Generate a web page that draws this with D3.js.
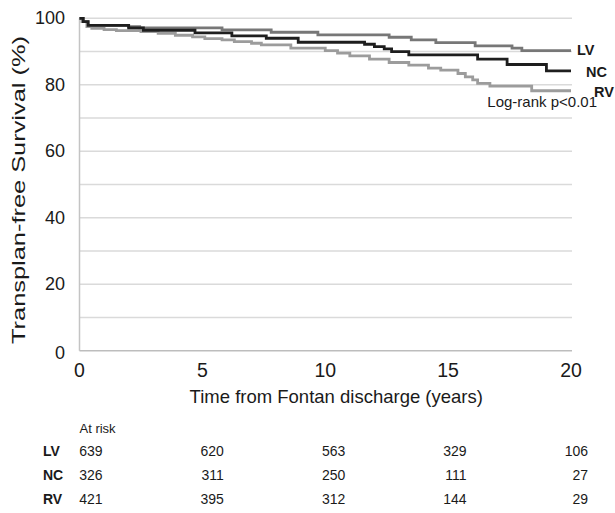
<!DOCTYPE html>
<html>
<head>
<meta charset="utf-8">
<script src="https://cdn.jsdelivr.net/npm/d3@7/dist/d3.min.js"></script>
<style>
  html, body { margin: 0; padding: 0; background: #fff; }
  svg { display: block; font-family: "Liberation Sans", Arial, sans-serif; }
</style>
</head>
<body>
<svg id="chart" width="615" height="513"></svg>
<script>
// Kaplan-Meier step data (years, % transplant-free survival)
const groups = ["LV", "NC", "RV"];
const lvTimes = [0, 0.15, 0.35, 2.0, 2.45, 5.8, 7.8, 9.7, 12.6, 13.5, 14.5, 16.1, 17.6, 18.0, 20];
const lvSurv  = [100, 99.0, 97.9, 97.5, 97.1, 96.5, 95.8, 95.0, 94.3, 93.5, 92.7, 91.7, 91.0, 90.3, 90.3];
const ncTimes = [0, 0.15, 0.35, 2.0, 2.6, 4.7, 6.2, 7.6, 8.9, 11.6, 12.0, 12.4, 12.7, 13.4, 16.2, 17.4, 19.0, 20];
const ncSurv  = [100, 99.0, 97.9, 97.1, 96.4, 95.6, 94.7, 94.0, 92.8, 92.2, 91.5, 90.8, 90.0, 89.0, 87.7, 86.1, 84.2, 84.2];
const rvTimes = [0, 0.1, 0.3, 0.5, 1.0, 1.5, 2.5, 3.2, 3.9, 4.6, 5.1, 5.8, 6.3, 7.0, 7.4, 8.6, 10.0, 10.5, 11.0, 11.8, 12.6, 13.4, 14.2, 14.7, 15.4, 15.7, 16.0, 16.2, 16.7, 18.4, 20];
const rvSurv  = [100, 99.0, 97.5, 97.0, 96.6, 96.3, 96.0, 95.5, 94.9, 94.4, 93.9, 93.5, 93.0, 92.5, 92.0, 91.0, 90.3, 89.5, 88.7, 87.7, 86.7, 85.9, 85.0, 84.4, 83.4, 82.4, 81.5, 80.4, 79.6, 78.2, 78.2];

const xTicks = [0, 5, 10, 15, 20];
const yTicks = [0, 20, 40, 60, 80, 100];
const gridValues = [10, 20, 30, 40, 50, 60, 70, 80, 90, 100];

// Numbers at risk per group at each x tick
const riskTimes = [0, 5, 10, 15, 20];
const riskLV = [639, 620, 563, 329, 106];
const riskNC = [326, 311, 250, 111, 27];
const riskRV = [421, 395, 312, 144, 29];

const svg = d3.select("#chart");
const x = d3.scaleLinear().domain([0, 20]).range([79.5, 571]);
const y = d3.scaleLinear().domain([0, 100]).range([350.7, 18.3]);

// horizontal gridlines
svg.append("g").selectAll("line").data(gridValues).join("line")
  .attr("x1", x(0)).attr("x2", x(20) + 1)
  .attr("y1", d => y(d)).attr("y2", d => y(d))
  .attr("stroke", "#dadada").attr("stroke-width", 1.5);

// axis lines
svg.append("line").attr("x1", x(0)).attr("x2", x(0)).attr("y1", y(100)).attr("y2", y(0))
  .attr("stroke", "#c4c4c4").attr("stroke-width", 1.5);
svg.append("line").attr("x1", x(0)).attr("x2", x(20) + 1).attr("y1", y(0)).attr("y2", y(0))
  .attr("stroke", "#bdbdbd").attr("stroke-width", 1.5);

// y tick labels
svg.append("g").selectAll("text").data(yTicks).join("text")
  .attr("x", 65).attr("y", d => y(d) + (d === 0 ? 2 : 0))
  .attr("text-anchor", "end").attr("dominant-baseline", "central")
  .attr("font-size", 18).attr("fill", "#1a1a1a")
  .text(d => d);

// x tick labels
svg.append("g").selectAll("text").data(xTicks).join("text")
  .attr("x", d => x(d)).attr("y", 370)
  .attr("text-anchor", "middle").attr("dominant-baseline", "central")
  .attr("font-size", 19.5).attr("fill", "#1a1a1a")
  .text(d => d);

// axis titles
svg.append("text").attr("x", x(10) + 11).attr("y", 396)
  .attr("text-anchor", "middle").attr("dominant-baseline", "central")
  .attr("font-size", 18.5).attr("fill", "#1a1a1a")
  .text("Time from Fontan discharge (years)");
svg.append("text")
  .attr("transform", "translate(18,190) rotate(-90)")
  .attr("text-anchor", "middle").attr("dominant-baseline", "central")
  .attr("font-size", 19).attr("fill", "#1a1a1a")
  .attr("textLength", 308).attr("lengthAdjust", "spacingAndGlyphs")
  .text("Transplan-free Survival (%)");

// survival curves
const line = d3.line().curve(d3.curveStepAfter)
  .x(d => x(d[0])).y(d => y(d[1]));
const curves = [
  { name: "LV", t: lvTimes, s: lvSurv, color: "#777777" },
  { name: "RV", t: rvTimes, s: rvSurv, color: "#9c9c9c" },
  { name: "NC", t: ncTimes, s: ncSurv, color: "#1e1e1e" }
];
svg.append("g").selectAll("path").data(curves).join("path")
  .attr("d", c => line(c.t.map((t, i) => [t, c.s[i]])))
  .attr("fill", "none").attr("stroke", c => c.color)
  .attr("stroke-width", 2.8);

// end-of-curve group labels
const labelDx = { LV: 6, NC: 15, RV: 23 };
svg.append("g").selectAll("text").data(curves).join("text")
  .attr("x", c => x(20) + labelDx[c.name])
  .attr("y", c => y(c.s[c.s.length - 1]) + (c.name === "LV" ? -1 : 1))
  .attr("dominant-baseline", "central")
  .attr("font-size", 14.5).attr("font-weight", "bold").attr("fill", "#1a1a1a")
  .text(c => c.name);

svg.append("text").attr("x", 597).attr("y", 101)
  .attr("text-anchor", "end").attr("dominant-baseline", "central")
  .attr("font-size", 15).attr("fill", "#1a1a1a")
  .text("Log-rank p<0.01");

// numbers at risk table
const xRisk = d3.scaleLinear().domain([0, 20]).range([x(0) + 23, x(20) + 17]);
svg.append("text").attr("x", x(0)).attr("y", 428)
  .attr("dominant-baseline", "central")
  .attr("font-size", 13).attr("fill", "#1a1a1a")
  .text("At risk");
const rows = [
  { name: "LV", vals: riskLV, y: 451 },
  { name: "NC", vals: riskNC, y: 475 },
  { name: "RV", vals: riskRV, y: 499 }
];
const rowG = svg.append("g").selectAll("g").data(rows).join("g");
rowG.append("text").attr("x", 43).attr("y", r => r.y)
  .attr("dominant-baseline", "central")
  .attr("font-size", 14).attr("font-weight", "bold").attr("fill", "#1a1a1a")
  .text(r => r.name);
rowG.selectAll("text.v").data(r => r.vals.map((v, i) => ({ v, t: riskTimes[i], y: r.y })))
  .join("text").attr("class", "v")
  .attr("x", d => xRisk(d.t)).attr("y", d => d.y)
  .attr("text-anchor", "end").attr("dominant-baseline", "central")
  .attr("font-size", 14).attr("fill", "#1a1a1a")
  .text(d => d.v);
</script>
</body>
</html>
